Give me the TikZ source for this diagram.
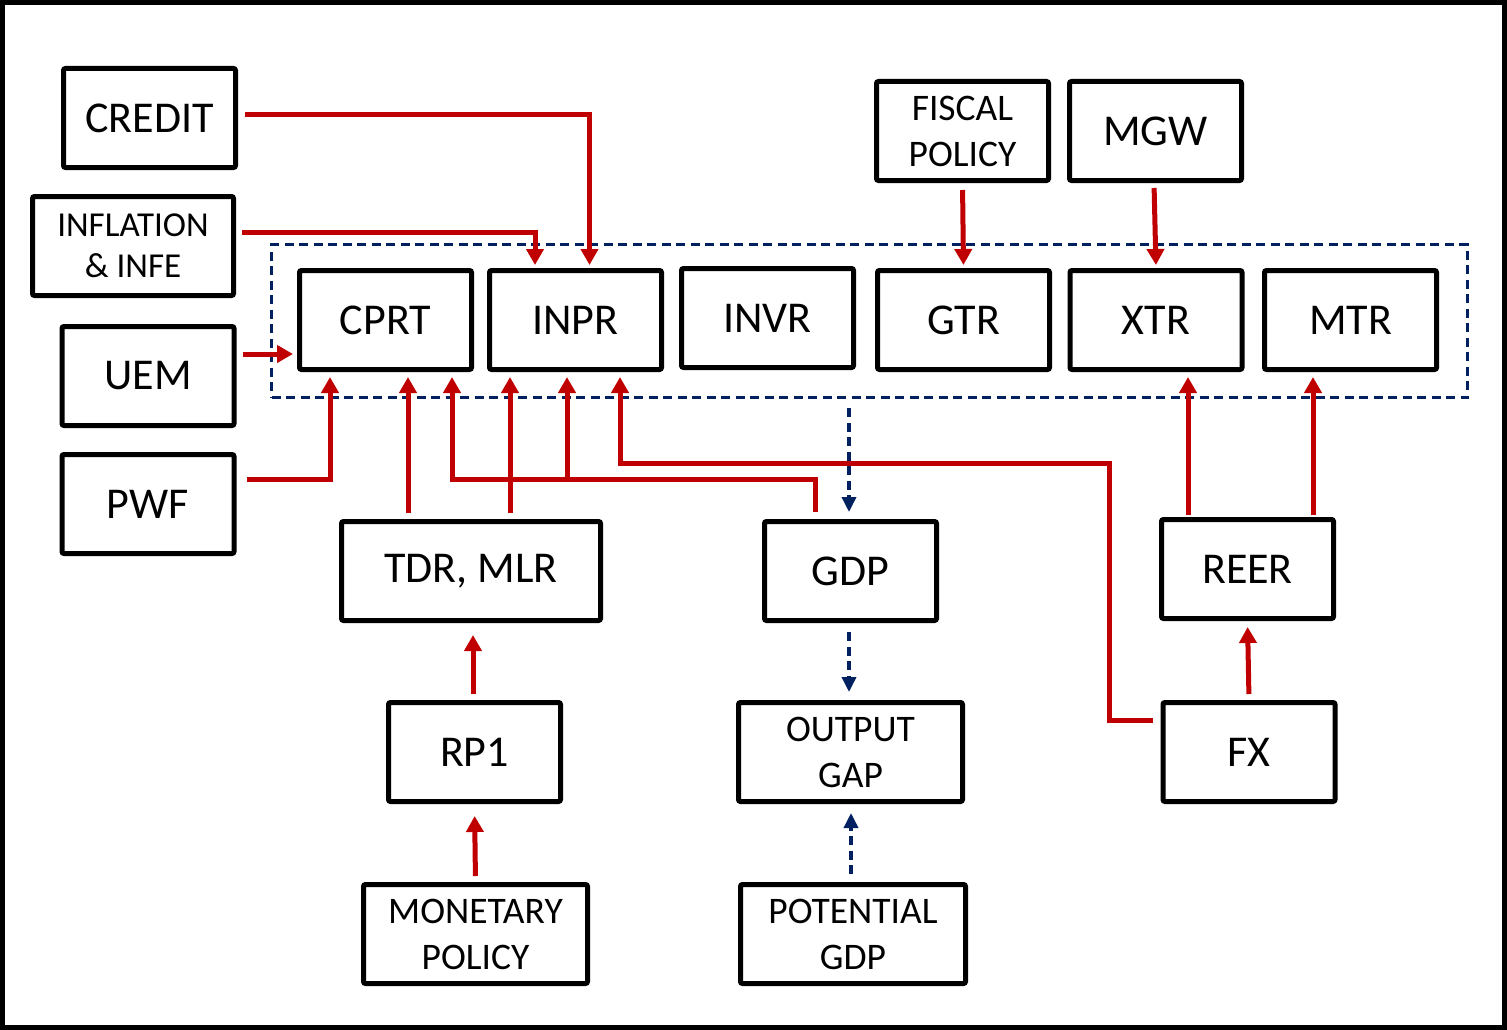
\documentclass[tikz,border=0pt]{standalone}
\usepackage{fontspec}
\setmainfont{Carlito}
\usetikzlibrary{arrows.meta}
\definecolor{rd}{HTML}{C00000}
\definecolor{nv}{HTML}{002060}
\begin{document}
\begin{tikzpicture}[x=1pt,y=-1pt,
  box/.style={draw, line width=5pt, rounded corners=2pt, minimum width=172pt, minimum height=99pt, inner sep=0pt, font=\fontsize{44}{52}\selectfont, align=center},
  mid/.style={font=\fontsize{37.5}{46}\selectfont},
  ra/.style={draw=rd, line width=5pt, -{Triangle[length=16pt,width=17pt]}},
  ba/.style={draw=nv, line width=3.5pt, dash pattern=on 9pt off 5.5pt, -{Triangle[length=15pt,width=14pt]}},
  grp/.style={draw=nv, line width=3.5pt, dash pattern=on 9pt off 5.5pt, minimum width=1196pt, minimum height=153pt, inner sep=0pt}
]
\useasboundingbox (0,0) rectangle (1507,1030);
\fill[white] (0,0) rectangle (1507,1030);
\draw[line width=5pt] (2.5,2.5) rectangle (1504.5,1027.5);

% group container
\node[grp] (blk) at (869.5,321) {};

% left inputs
\node[box] (credit) at (149.5,118) {CREDIT};
\node[box, minimum width=201pt, font=\fontsize{35}{41}\selectfont] (infl) at (133,246) {INFLATION\\\& INFE};
\node[box] (uem) at (148,376) {UEM};
\node[box] (pwf) at (148,504) {PWF};

% row of blocks
\node[box] (cprt) at (385.5,320) {CPRT};
\node[box] (inpr) at (575.5,320) {INPR};
\node[box] (invr) at (767.5,318) {INVR};
\node[box] (gtr) at (963.5,320) {GTR};
\node[box] (xtr) at (1156,320) {XTR};
\node[box] (mtr) at (1350.5,320) {MTR};

% top inputs
\node[box, mid] (fisc) at (962.5,131) {FISCAL\\POLICY};
\node[box] (mgw) at (1155.5,131) {MGW};

% lower part
\node[box, minimum width=259pt] (tdr) at (471,571) {TDR, MLR};
\node[box] (gdp) at (850.5,571) {GDP};
\node[box] (reer) at (1247.5,569) {REER};
\node[box] (rp1) at (474.5,752) {RP1};
\node[box, mid, minimum width=224pt] (ogap) at (850.5,752) {OUTPUT\\GAP};
\node[box] (fx) at (1249,752) {FX};
\node[box, mid, minimum width=224pt] (mpol) at (475.5,934) {MONETARY\\POLICY};
\node[box, mid, minimum width=225pt] (pgdp) at (853,934) {POTENTIAL\\GDP};

% helper coordinates
\coordinate (uemout) at ([yshift=22pt]uem.east);
\coordinate (gline) at (0,479);
\coordinate (c3) at ([xshift=66.5pt]cprt.south);
\coordinate (i2) at ([xshift=-8.5pt]inpr.south);
\coordinate (fxbend) at (1109,463);

% red connectors
\draw[ra, shorten <=7pt, shorten >=3pt] ([yshift=3pt]credit.east) -| ([xshift=14pt]inpr.north);
\draw[ra, shorten <=6pt, shorten >=3pt] ([yshift=14pt]infl.east) -| ([xshift=-40.5pt]inpr.north);
\draw[ra, shorten <=6pt, shorten >=4pt] (uemout) -- (uemout -| cprt.west);
\draw[ra, shorten <=10pt, shorten >=5pt] ([yshift=25pt]pwf.east) -| ([xshift=-55.5pt]cprt.south);
\draw[ra, shorten <=6pt, shorten >=5pt] ([xshift=-63pt]tdr.north) -- ([xshift=22.5pt]cprt.south);
\draw[ra, shorten <=6pt, shorten >=5pt] ([xshift=39pt]tdr.north) -- ([xshift=-65.5pt]inpr.south);
\draw[ra, shorten <=7pt, shorten >=5pt] ([xshift=-35.5pt]gdp.north) |- (c3 |- gline) -- (c3);
\draw[ra, shorten >=5pt] (i2 |- gline) -- (i2);
\draw[ra, shorten <=8pt, shorten >=5pt] ([yshift=32pt]fx.west) -| (fxbend) -| ([xshift=44.5pt]inpr.south);
\draw[ra, shorten <=2pt, shorten >=5pt] ([xshift=-59.5pt]reer.north) -- ([xshift=32pt]xtr.south);
\draw[ra, shorten <=2pt, shorten >=5pt] ([xshift=65.5pt]reer.north) -- ([xshift=-37.5pt]mtr.south);
\draw[ra, shorten <=6pt, shorten >=6pt] (fx.north) -- (reer.south);
\draw[ra, shorten <=6pt, shorten >=12pt] ([xshift=-1.5pt]rp1.north) -- ([xshift=2pt]tdr.south);
\draw[ra, shorten <=6pt, shorten >=12pt] (mpol.north) -- (rp1.south);
\draw[ra, shorten <=7pt, shorten >=3pt] (fisc.south) -- (gtr.north);
\draw[ra, shorten <=5pt, shorten >=3pt] ([xshift=-1.5pt]mgw.south) -- (xtr.north);

% navy dashed connectors
\draw[ba, shorten <=9pt, shorten >=7pt] ([xshift=-20.5pt]blk.south) -- ([xshift=-1.5pt]gdp.north);
\draw[ba, shorten <=9pt, shorten >=8pt] ([xshift=-1.5pt]gdp.south) -- ([xshift=-1.5pt]ogap.north);
\draw[ba, shorten <=8pt, shorten >=9pt] ([xshift=-2pt]pgdp.north) -- ([xshift=0.5pt]ogap.south);
\end{tikzpicture}
\end{document}
